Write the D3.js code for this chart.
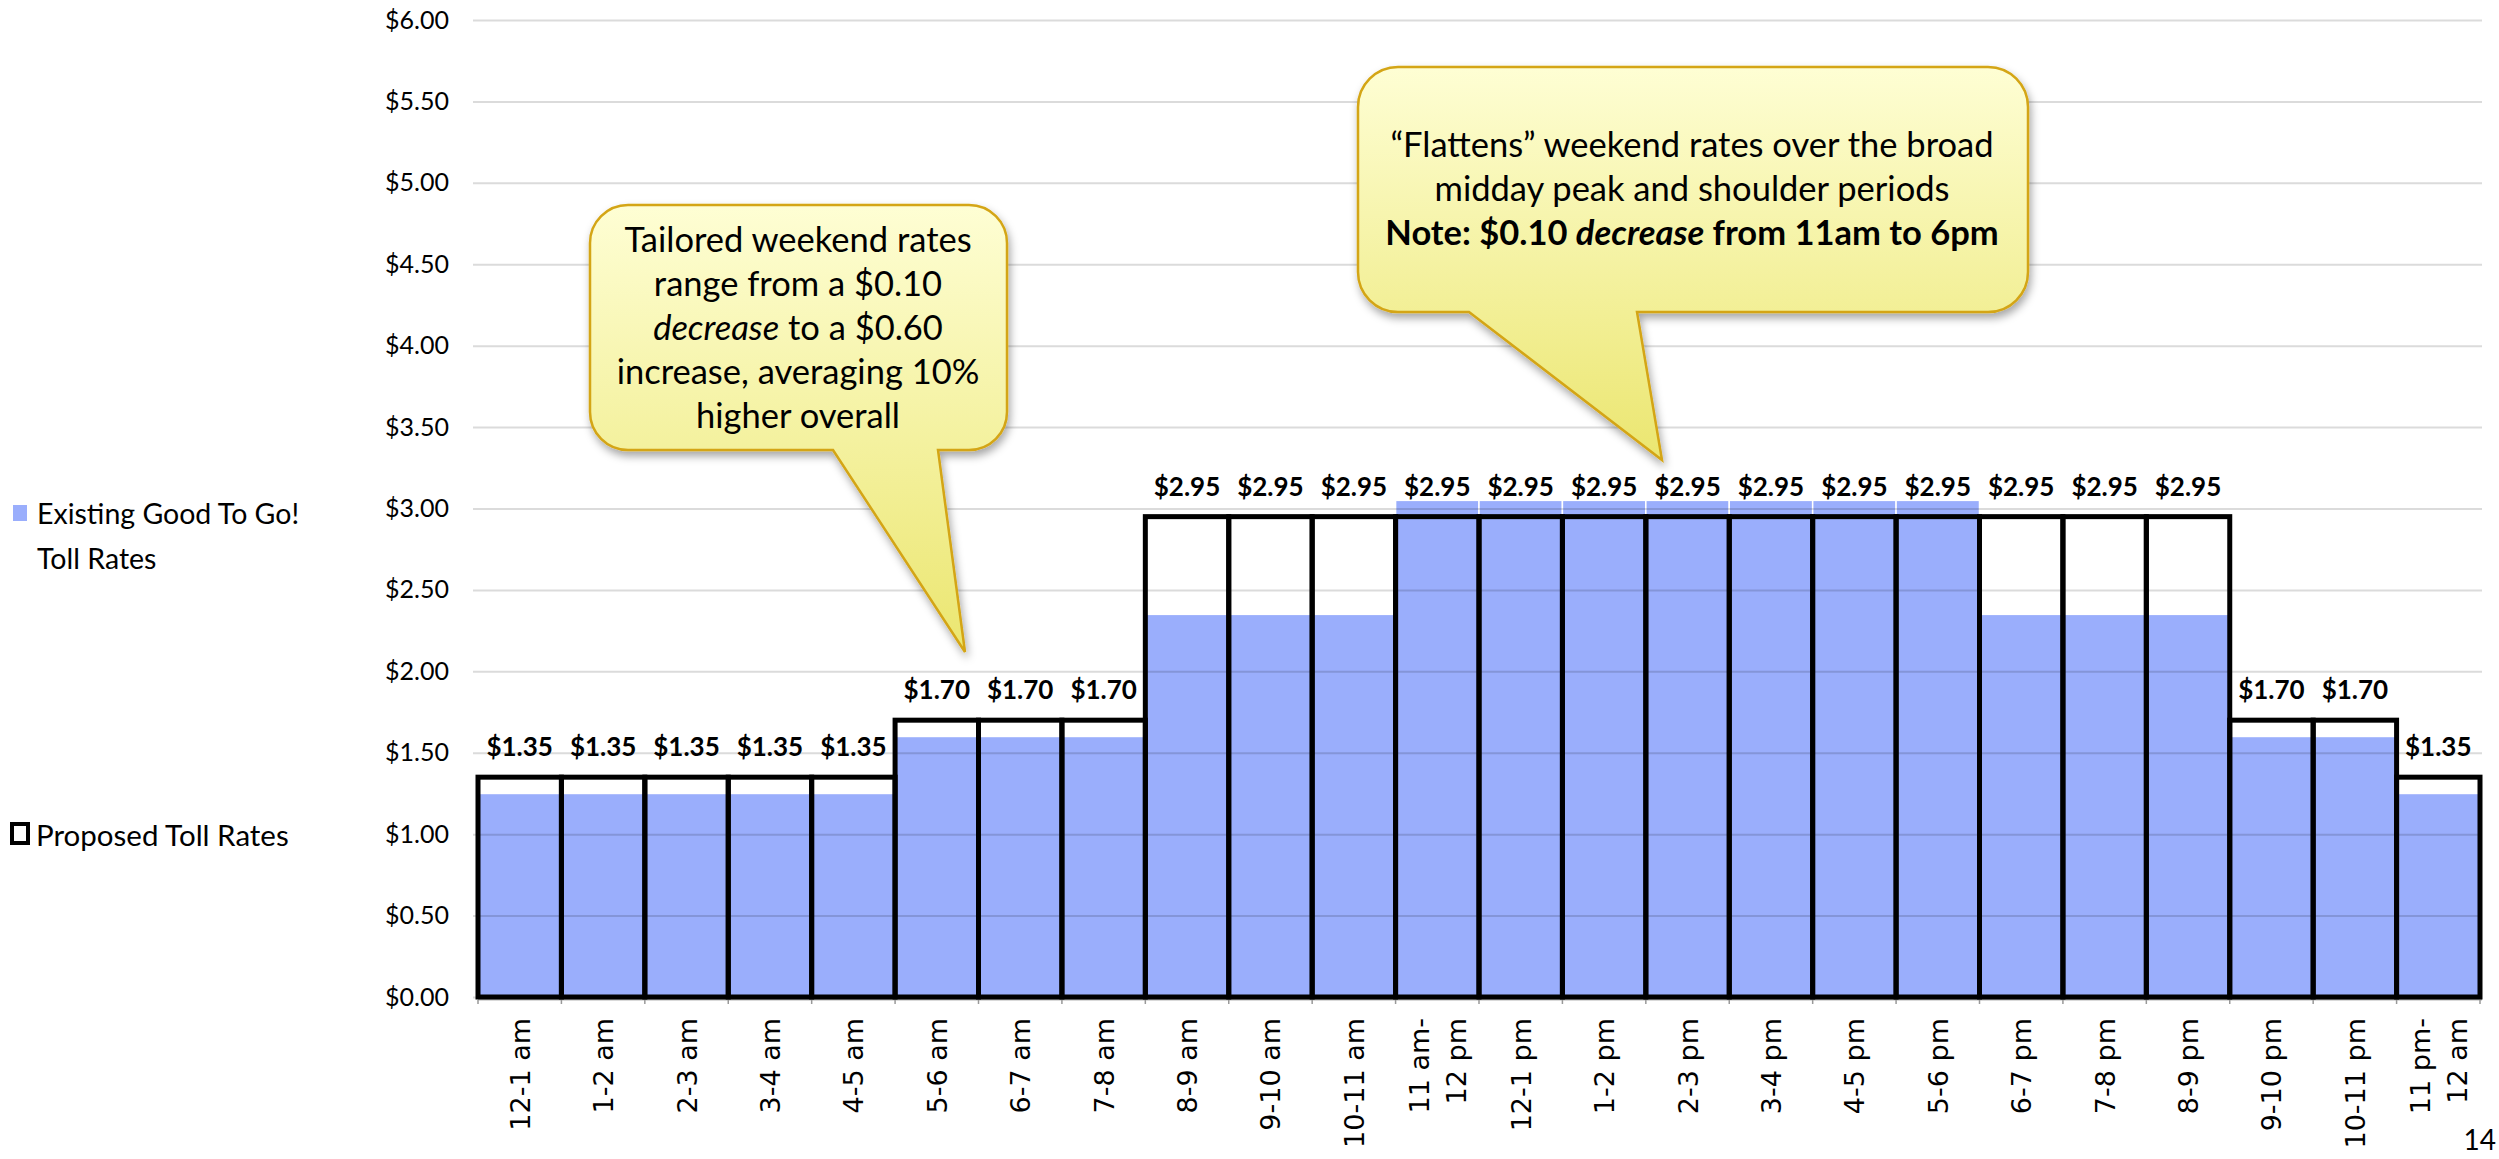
<!DOCTYPE html>
<html>
<head>
<meta charset="utf-8">
<script src="https://cdn.jsdelivr.net/npm/d3@7"></script>
<style>
  body { margin: 0; background: #fff; }
  svg text { font-family: Lato, "Open Sans", sans-serif; fill: #000; }
  svg text.cat { font-family: "DejaVu Sans", sans-serif; }
</style>
</head>
<body>
<svg id="canvas"></svg>
<script>
const categories = ["12-1 am", "1-2 am", "2-3 am", "3-4 am", "4-5 am", "5-6 am", "6-7 am", "7-8 am",
  "8-9 am", "9-10 am", "10-11 am", "11 am-\n12 pm", "12-1 pm", "1-2 pm", "2-3 pm", "3-4 pm",
  "4-5 pm", "5-6 pm", "6-7 pm", "7-8 pm", "8-9 pm", "9-10 pm", "10-11 pm", "11 pm-\n12 am"];
const existing = [1.25, 1.25, 1.25, 1.25, 1.25, 1.60, 1.60, 1.60, 2.35, 2.35, 2.35, 3.05,
  3.05, 3.05, 3.05, 3.05, 3.05, 3.05, 2.35, 2.35, 2.35, 1.60, 1.60, 1.25];
const proposed = [1.35, 1.35, 1.35, 1.35, 1.35, 1.70, 1.70, 1.70, 2.95, 2.95, 2.95, 2.95,
  2.95, 2.95, 2.95, 2.95, 2.95, 2.95, 2.95, 2.95, 2.95, 1.70, 1.70, 1.35];
const yTicks = [0, 0.5, 1, 1.5, 2, 2.5, 3, 3.5, 4, 4.5, 5, 5.5, 6];
const seriesNames = ["Existing Good To Go!\nToll Rates", "Proposed Toll Rates"];
const note1 = [[["Tailored weekend rates", ""]], [["range from a $0.10", ""]],
  [["decrease", "i"], [" to a $0.60", ""]], [["increase, averaging 10%", ""]], [["higher overall", ""]]];
const note2 = [[["\u201cFlattens\u201d weekend rates over the broad", ""]],
  [["midday peak and shoulder periods", ""]],
  [["Note: $0.10 ", "b"], ["decrease", "bi"], [" from 11am to 6pm", "b"]]];

const width = 2499;
const height = 1159;
const plotLeft = 478, plotRight = 2480, plotTop = 20, plotBottom = 997;

const svg = d3.select("#canvas").attr("width", width).attr("height", height);

const defs = svg.append("defs");
const grad = defs.append("linearGradient").attr("id", "yellow")
  .attr("x1", 0).attr("y1", 0).attr("x2", 0).attr("y2", 1);
grad.append("stop").attr("offset", "0%").attr("stop-color", "#fefed4");
grad.append("stop").attr("offset", "100%").attr("stop-color", "#ebe670");
defs.append("filter").attr("id", "shadow")
  .attr("x", "-10%").attr("y", "-10%").attr("width", "130%").attr("height", "130%")
  .append("feDropShadow").attr("dx", 2).attr("dy", 5).attr("stdDeviation", 4)
  .attr("flood-color", "#000").attr("flood-opacity", 0.35);

const x = d3.scaleBand().domain(categories).range([plotLeft, plotRight]).padding(0);
const y = d3.scaleLinear().domain([0, 6]).range([plotBottom, plotTop]);

// existing rates
svg.append("g").selectAll("rect")
   .data(existing)
   .enter()
   .append("rect")
   .attr("x", (d, i) => x(categories[i]))
   .attr("y", d => y(d))
   .attr("width", x.bandwidth())
   .attr("height", d => y(0) - y(d))
   .attr("fill", "#9aaefc")
   .attr("stroke", "#fff")
   .attr("stroke-width", 1.5);

// gridlines + y labels
const yAxis = d3.axisLeft(y)
  .tickValues(yTicks)
  .tickFormat(d3.format("$.2f"))
  .tickSize(-(2482 - 473))
  .tickPadding(24);
const yg = svg.append("g").attr("transform", "translate(473,0)").call(yAxis);
yg.select(".domain").remove();
yg.selectAll("line").attr("stroke", "rgba(0,0,0,0.14)").attr("stroke-width", 2);
yg.selectAll("text").attr("font-size", 25);

// base axis line and small ticks
svg.append("line").attr("x1", plotLeft).attr("x2", plotRight + 2)
   .attr("y1", y(0) + 2).attr("y2", y(0) + 2)
   .attr("stroke", "#b3b3b3").attr("stroke-width", 3);
svg.append("g").selectAll("line")
   .data(categories.concat([null]))
   .enter()
   .append("line")
   .attr("x1", d => d === null ? plotRight : x(d))
   .attr("x2", d => d === null ? plotRight : x(d))
   .attr("y1", y(0) + 3).attr("y2", y(0) + 7)
   .attr("stroke", "#999").attr("stroke-width", 1.5);

// proposed rates
svg.append("g").selectAll("rect")
   .data(proposed)
   .enter()
   .append("rect")
   .attr("x", (d, i) => x(categories[i]))
   .attr("y", d => y(d))
   .attr("width", x.bandwidth())
   .attr("height", d => y(0) - y(d))
   .attr("fill", "none")
   .attr("stroke", "#000")
   .attr("stroke-width", 5);

svg.append("g").selectAll("text")
   .data(proposed)
   .enter()
   .append("text")
   .attr("x", (d, i) => x(categories[i]) + x.bandwidth() / 2)
   .attr("y", d => y(d) - 21)
   .attr("text-anchor", "middle")
   .attr("font-size", 26)
   .attr("font-weight", "bold")
   .text(d => d3.format("$.2f")(d));

// category labels
const xl = svg.append("g").selectAll("g")
   .data(categories)
   .enter()
   .append("g")
   .attr("transform", d => `translate(${x(d) + x.bandwidth() / 2},1018) rotate(-90)`);
xl.each(function(d) {
  const lines = d.split("\n");
  const t = d3.select(this).append("text")
    .attr("class", "cat")
    .attr("text-anchor", "end")
    .attr("font-size", 27);
  lines.forEach((l, i) => {
    t.append("tspan").attr("x", 0)
     .attr("y", (i - (lines.length - 1) / 2) * 37 + 10)
     .text(l);
  });
});

// legend
svg.append("rect").attr("x", 13).attr("y", 505).attr("width", 14).attr("height", 16).attr("fill", "#9aaefc");
const lt = svg.append("text").attr("font-size", 28.5);
seriesNames[0].split("\n").forEach((l, i) => {
  lt.append("tspan").attr("x", 37).attr("y", 524 + i * 45).text(l);
});
svg.append("rect").attr("x", 12).attr("y", 824).attr("width", 16).attr("height", 19)
   .attr("fill", "#fff").attr("stroke", "#000").attr("stroke-width", 4);
svg.append("text").attr("x", 36).attr("y", 846).attr("font-size", 29.5).text(seriesNames[1]);

// callouts
function callout(x0, y0, x1, y1, r, p1, p2, tx, ty) {
  return `M${x0 + r},${y0} H${x1 - r} A${r},${r} 0 0 1 ${x1},${y0 + r} V${y1 - r}` +
    ` A${r},${r} 0 0 1 ${x1 - r},${y1} H${p2} L${tx},${ty} L${p1},${y1} H${x0 + r}` +
    ` A${r},${r} 0 0 1 ${x0},${y1 - r} V${y0 + r} A${r},${r} 0 0 1 ${x0 + r},${y0} Z`;
}
function drawNote(path, lines, cx, y0, lh) {
  svg.append("path").attr("d", path)
     .attr("fill", "url(#yellow)").attr("stroke", "#d4a514").attr("stroke-width", 2.5)
     .attr("filter", "url(#shadow)");
  lines.forEach((parts, i) => {
    const t = svg.append("text").attr("x", cx).attr("y", y0 + i * lh)
      .attr("text-anchor", "middle").attr("font-size", 34.5);
    parts.forEach(p => {
      t.append("tspan")
       .attr("font-style", p[1].includes("i") ? "italic" : "normal")
       .attr("font-weight", p[1].includes("b") ? "bold" : "normal")
       .text(p[0]);
    });
  });
}
drawNote(callout(590, 205, 1007, 450, 38, 833, 938, 965, 652), note1, 798, 252, 44);
drawNote(callout(1358, 67, 2028, 312, 40, 1469, 1637, 1662, 460), note2, 1692, 157, 44);

svg.append("text").attr("x", 2496).attr("y", 1150).attr("text-anchor", "end")
   .attr("font-size", 28).text("14");
</script>
</body>
</html>
